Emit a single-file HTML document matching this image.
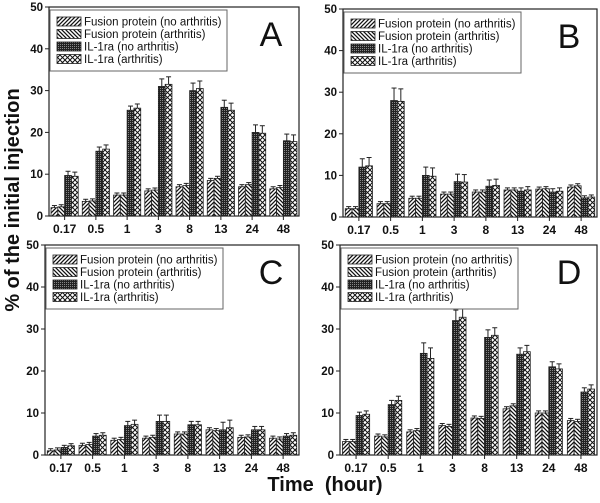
<!DOCTYPE html>
<html><head><meta charset="utf-8">
<style>
body{margin:0;background:#fff;}
svg text{font-family:"Liberation Sans",Arial,sans-serif;}
</style></head>
<body>
<svg id="fig" width="600" height="498" viewBox="0 0 600 498" xmlns="http://www.w3.org/2000/svg">
<defs>
<pattern id="pFN" width="4" height="4" patternUnits="userSpaceOnUse"><rect width="4" height="4" fill="#fff"/><path d="M-1,1 l2,-2 M0,4 l4,-4 M3,5 l2,-2" stroke="#111" stroke-width="1.3"/></pattern>
<pattern id="pFA" width="4" height="4" patternUnits="userSpaceOnUse"><rect width="4" height="4" fill="#fff"/><path d="M-1,3 l2,2 M0,0 l4,4 M3,-1 l2,2" stroke="#111" stroke-width="1.3"/></pattern>
<pattern id="pIN" width="2" height="2" patternUnits="userSpaceOnUse"><rect width="2" height="2" fill="#222"/><rect width="1" height="1" fill="#888"/></pattern>
<pattern id="pIA" width="5" height="5" patternUnits="userSpaceOnUse"><rect width="5" height="5" fill="#fff"/><path d="M0,0 l5,5 M5,0 l-5,5" stroke="#111" stroke-width="1"/></pattern>
</defs>
<text transform="translate(19,200) rotate(-90)" text-anchor="middle" font-size="20" font-weight="bold" fill="#111">% of the initial injection</text>
<text x="325" y="491" text-anchor="middle" font-size="20" font-weight="bold" fill="#111" xml:space="preserve">Time  (hour)</text>
</svg>
<script>
const categories = ["0.17","0.5","1","3","8","13","24","48"];
const yTicks = [0,10,20,30,40,50];
const seriesNames = ["Fusion protein (no arthritis)","Fusion protein (arthritis)","IL-1ra (no arthritis)","IL-1ra (arthritis)"];
const aFusionNo = [2,3.5,5,6,7,8.5,7,6.5];
const aFusionArth = [2.2,3.6,5,6.2,7.3,9,7.5,6.8];
const aIl1raNo = [9.7,15.5,25.3,31,30,26,20,18];
const aIl1raArth = [9.5,16,25.8,31.5,30.5,25.3,19.8,17.8];
const aErr = [1,1,1,1.8,1.8,1.7,1.8,1.6];
const bFusionNo = [2,3.2,4.5,5.5,6,6.5,6.7,7.2];
const bFusionArth = [2,3.2,4.5,5.5,6,6.5,6.8,7.5];
const bIl1raNo = [12,28,10,8.5,7.4,6.2,6,4.6];
const bIl1raArth = [12.3,27.8,9.8,8.4,7.6,6.5,6.2,4.8];
const bErr = [2,3,2,1.8,1.5,0.8,0.8,0.5];
const cFusionNo = [1,2.3,3.5,4,5,6,4.2,4];
const cFusionArth = [1.2,2.5,3.7,4.2,5,5.8,4.3,3.8];
const cIl1raNo = [1.8,4.5,7,8,7.2,6,6,4.5];
const cIl1raArth = [2.2,4.7,7.3,8,7.2,6.5,6,4.7];
const cErr = [0.5,0.6,1,1.5,0.8,1.8,0.8,0.6];
const dFusionNo = [3.2,4.5,5.5,7,8.8,11,10,8.2];
const dFusionArth = [3.2,4.3,5.8,6.8,8.7,11.7,10,8];
const dIl1raNo = [9.4,12,24.2,32,28,24,21,15];
const dIl1raArth = [9.7,13,23,32.8,28.5,24.6,20.5,15.7];
const dErr = [0.8,1,2.5,2.5,1.8,1.5,1.2,1];

const NS="http://www.w3.org/2000/svg";
const svg=document.getElementById('fig');
const fills=["url(#pFN)","url(#pFA)","url(#pIN)","url(#pIA)"];
function mk(tag,attrs,parent){const e=document.createElementNS(NS,tag);for(const k in attrs)e.setAttribute(k,attrs[k]);(parent||svg).appendChild(e);return e;}

function panel(letter,x0,x1,yTop,yZero,series,err){
  const g=mk('g',{});
  
  
  const yS=v=>yZero-(v/50)*(yZero-yTop);
  const step=(x1-x0)/categories.length;
  const xC=i=>x0+step*(i+0.5);
  const bw=6.8;
  const fr=mk('rect',{x:x0,y:yTop,width:x1-x0,height:yZero-yTop,fill:'none',stroke:'#222','stroke-width':1.2},g);
  
  
  yTicks.forEach(t=>{
    mk('line',{x1:x0-4,x2:x0,y1:yS(t),y2:yS(t),stroke:'#222'},g);
    const tx=mk('text',{x:x0-6,y:yS(t)+4,'text-anchor':'end','font-size':11.5,'font-weight':'bold',fill:'#111'},g);
    tx.textContent=t;
    
    
  });
  categories.forEach((c,i)=>{
    mk('line',{x1:xC(i),x2:xC(i),y1:yZero,y2:yZero+4,stroke:'#222'},g);
    const tx=mk('text',{x:xC(i),y:yZero+17,'text-anchor':'middle','font-size':12,'font-weight':'bold',fill:'#111'},g);
    tx.textContent=c;
    
    
    series.forEach((s,k)=>{
      const bx=xC(i)+(k-2)*bw;
      const v=s[i];
      const r=mk('rect',{x:bx,y:yS(v),width:bw,height:yZero-yS(v),fill:fills[k],stroke:'#222','stroke-width':0.8},g);
      
      
      const e=(k<2)?Math.min(0.5,err[i]):err[i];
      const ex=bx+bw/2;
      mk('line',{x1:ex,x2:ex,y1:yS(v),y2:yS(v+e),stroke:'#222','stroke-width':1},g);
      mk('line',{x1:ex-2.5,x2:ex+2.5,y1:yS(v+e),y2:yS(v+e),stroke:'#222','stroke-width':1},g);
    });
  });
  const lx=x0+1, ly=yTop+3;
  const lg=mk('g',{},g);
  
  
  mk('rect',{x:lx,y:ly,width:177,height:61,fill:'#fff',stroke:'#666','stroke-width':1},lg);
  seriesNames.forEach((n,k)=>{
    const sw=mk('rect',{x:lx+7,y:ly+7+k*12.5,width:24,height:9,fill:fills[k],stroke:'#222','stroke-width':0.8},lg);
    
    
    const tx=mk('text',{x:lx+34,y:ly+15.5+k*12.5,'font-size':11.5,fill:'#111'},lg);
    tx.textContent=n;
    
    
  });
  const L=mk('text',{x:x1-28,y:yTop+39,'text-anchor':'middle','font-size':34,fill:'#111'},g);
  L.textContent=letter;
  
  
}
panel('A',49,299,7,216,[aFusionNo,aFusionArth,aIl1raNo,aIl1raArth],aErr);
panel('B',343,597,9,217,[bFusionNo,bFusionArth,bIl1raNo,bIl1raArth],bErr);
panel('C',45,299,245,455,[cFusionNo,cFusionArth,cIl1raNo,cIl1raArth],cErr);
panel('D',340,597,245,455,[dFusionNo,dFusionArth,dIl1raNo,dIl1raArth],dErr);
</script>
</body></html>
